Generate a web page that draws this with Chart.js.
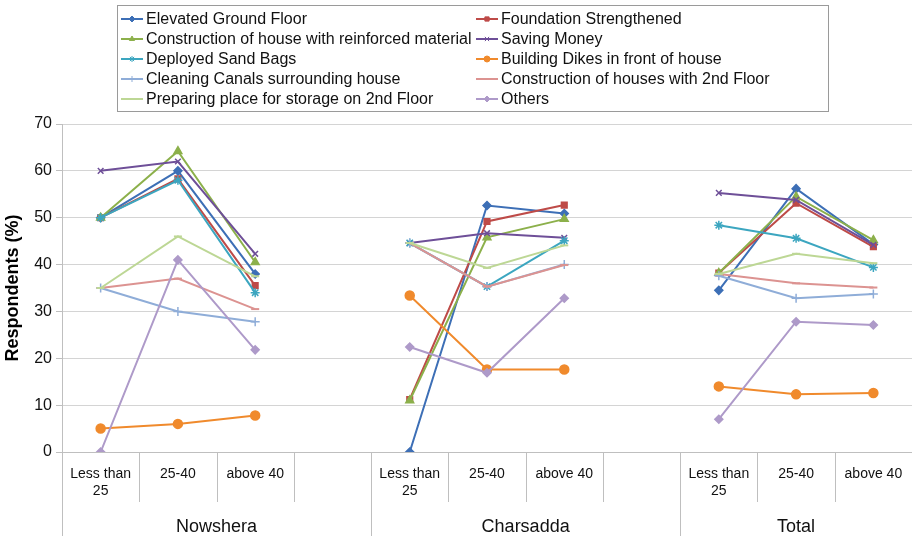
<!DOCTYPE html>
<html>
<head>
<meta charset="utf-8">
<script src="https://cdn.jsdelivr.net/npm/chart.js@4/dist/chart.umd.min.js"></script>
<style>
  body { margin: 0; background: #fff; }
  #wrap { width: 912px; height: 536px; }
</style>
</head>
<body>
<div id="wrap"><canvas id="chart" width="912" height="536"></canvas></div>
<script>
// categories: 3 age groups per district, with an empty slot between districts
const categories = [['Less than', '25'], '25-40', 'above 40', '',
                    ['Less than', '25'], '25-40', 'above 40', '',
                    ['Less than', '25'], '25-40', 'above 40'];
const groups = ['Nowshera', 'Charsadda', 'Total'];
const groupCenters = [1.5, 5.5, 9];
const yTicks = [0, 10, 20, 30, 40, 50, 60, 70];

const seriesNames = [
  'Elevated Ground Floor', 'Foundation Strengthened',
  'Construction of house with reinforced material', 'Saving Money',
  'Deployed Sand Bags', 'Building Dikes in front of house',
  'Cleaning Canals surrounding house', 'Construction of houses with 2nd Floor',
  'Preparing place for storage on 2nd Floor', 'Others'
];

const elevated     = [50, 60, 38, null, 0, 52.6, 50.9, null, 34.5, 56.2, 44.3];
const foundation   = [50, 58.3, 35.5, null, 11.2, 49.2, 52.7, null, 38.2, 53.1, 43.8];
const reinforced   = [50, 64.2, 40.5, null, 11, 45.8, 49.7, null, 38.2, 54.5, 45.2];
const saving       = [60, 62, 42.3, null, 44.6, 46.7, 45.7, null, 55.3, 53.8, 44.2];
const sandBags     = [50, 58, 34, null, 44.6, 35.3, 45.1, null, 48.4, 45.6, 39.4];
const dikes        = [5, 6, 7.8, null, 33.4, 17.6, 17.6, null, 14, 12.3, 12.6];
const canals       = [35, 30, 27.8, null, 44.6, 35.3, 40, null, 37.6, 32.8, 33.7];
const secondFloor  = [35, 37, 30.5, null, 44.6, 35.3, 39.9, null, 38, 36, 35.1];
const storage      = [35, 46, 37.5, null, 44.6, 39.3, 44.1, null, 38, 42.3, 40.3];
const others       = [0, 41, 21.8, null, 22.4, 16.9, 32.8, null, 7, 27.8, 27.1];

const seriesValues = [elevated, foundation, reinforced, saving, sandBags,
                      dikes, canals, secondFloor, storage, others];
const seriesColors = ['#3D6FB6', '#BE4B48', '#8CB04B', '#6E4F98', '#3CA6C0',
                      '#F08A2C', '#8FADD8', '#DC9391', '#BDD795', '#AE9AC9'];
const seriesPoints = ['rectRot', 'rect', 'triangle', 'crossRot', 'star',
                      'circle', 'cross', 'line', 'line', 'rectRot'];
const seriesRadius = [4, 4, 4.5, 4, 4.5, 4.5, 4.5, 4, 4, 4];

const FONT = "'Liberation Sans', Arial, sans-serif";

// legend in two columns, drawn inside the top padding
const legendBox = {
  id: 'legendBox',
  afterDraw(chart) {
    const ctx = chart.ctx;
    ctx.save();
    ctx.strokeStyle = '#9a9a9a';
    ctx.lineWidth = 1;
    ctx.strokeRect(117.5, 5.5, 711, 106);
    ctx.font = '16px ' + FONT;
    ctx.textBaseline = 'middle';
    chart.data.datasets.forEach((ds, i) => {
      const x0 = i % 2 === 0 ? 121 : 476;
      const y = 19 + Math.floor(i / 2) * 20;
      ctx.strokeStyle = ds.borderColor;
      ctx.fillStyle = ds.borderColor;
      ctx.lineWidth = 2;
      ctx.beginPath();
      ctx.moveTo(x0, y);
      ctx.lineTo(x0 + 22, y);
      ctx.stroke();
      if (ds.pointStyle !== 'line') {
        ctx.lineWidth = 1;
        Chart.helpers.drawPoint(ctx, {pointStyle: ds.pointStyle, radius: 3, rotation: 0, borderWidth: 1}, x0 + 11, y);
      }
      ctx.fillStyle = '#111';
      ctx.fillText(ds.label, x0 + 25, y + 1);
    });
    ctx.restore();
  }
};

// divider lines under the axis and the district names
const dividers = {
  id: 'dividers',
  afterDraw(chart) {
    const ctx = chart.ctx;
    const xs = chart.scales.x;
    const area = chart.chartArea;
    ctx.save();
    ctx.strokeStyle = '#bfbfbf';
    ctx.lineWidth = 1;
    for (let i = 0; i <= categories.length; i++) {
      const px = Math.round(xs.getPixelForValue(i - 0.5)) + 0.5;
      const full = (i === 0 || i === 4 || i === 8 || i === categories.length);
      ctx.beginPath();
      ctx.moveTo(px, i === 0 ? area.top : area.bottom);
      ctx.lineTo(px, full ? chart.height : area.bottom + 50);
      ctx.stroke();
    }
    ctx.beginPath();
    ctx.moveTo(area.left, Math.round(area.bottom) + 0.5);
    ctx.lineTo(area.right, Math.round(area.bottom) + 0.5);
    ctx.stroke();
    ctx.fillStyle = '#111';
    ctx.font = '18px ' + FONT;
    ctx.textAlign = 'center';
    ctx.textBaseline = 'middle';
    groups.forEach((g, i) => {
      ctx.fillText(g, xs.getPixelForValue(groupCenters[i]), 527);
    });
    ctx.restore();
  }
};

new Chart(document.getElementById('chart'), {
  type: 'line',
  data: {
    labels: categories,
    datasets: seriesNames.map((name, i) => ({
      label: name,
      data: seriesValues[i],
      borderColor: seriesColors[i],
      backgroundColor: seriesColors[i],
      pointStyle: seriesPoints[i],
      pointRadius: seriesRadius[i],
      pointBorderWidth: seriesPoints[i] === 'line' ? 2 : 1.5,
      borderWidth: 2,
      tension: 0,
      spanGaps: false,
      order: seriesNames.length - i
    }))
  },
  options: {
    responsive: false,
    animation: false,
    devicePixelRatio: 1,
    layout: { autoPadding: false, padding: { top: 124, right: 0, left: 0, bottom: 0 } },
    plugins: {
      legend: { display: false },
      tooltip: { enabled: false }
    },
    scales: {
      x: {
        offset: true,
        grid: { display: false },
        border: { display: false },
        ticks: {
          autoSkip: false, maxRotation: 0, padding: 6,
          color: '#111',
          font: { family: FONT, size: 14, lineHeight: 1.2 }
        },
        afterFit: s => { s.height = 84; s.paddingLeft = 0; s.paddingRight = 0; }
      },
      y: {
        min: 0, max: 70,
        afterBuildTicks: s => { s.ticks = yTicks.map(v => ({ value: v })); },
        grid: { color: '#d4d4d4', tickLength: 6, tickColor: '#bfbfbf' },
        border: { display: false },
        ticks: {
          padding: 4, color: '#111',
          font: { family: FONT, size: 16 }
        },
        title: {
          display: true, text: 'Respondents (%)', color: '#000',
          padding: { top: 2, bottom: 2 },
          font: { family: FONT, size: 18, weight: 'bold' }
        },
        afterFit: s => { s.width = 62; s.paddingTop = 0; s.paddingBottom = 0; }
      }
    }
  },
  plugins: [legendBox, dividers]
});
</script>
</body>
</html>
